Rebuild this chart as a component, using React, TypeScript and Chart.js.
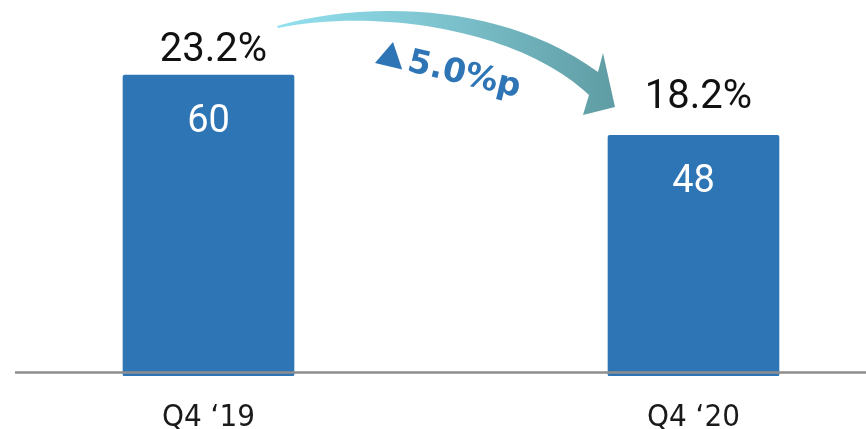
import React, { useEffect, useRef } from 'react';
import { Chart, registerables } from 'chart.js';

Chart.register(...registerables);

// ---- data ----
const categories = ['Q4 ‘19', 'Q4 ‘20'];
const barValues = [60, 48];
const shareLabels = ['23.2%', '18.2%'];
const changeLabel = '5.0%p';

// ---- layout / style ----
const BAR_COLOR = '#2E75B6';
const labelGap = [14, 27];

const overlay = {
  id: 'overlay',
  afterDatasetsDraw(chart: any) {
    const ctx: CanvasRenderingContext2D = chart.ctx;
    const meta = chart.getDatasetMeta(0);
    const area = chart.chartArea;
    ctx.save();

    // axis line (drawn over bars)
    const axisY = area.bottom - 3.5;
    ctx.strokeStyle = '#8e8e8e';
    ctx.lineWidth = 2.5;
    ctx.beginPath();
    ctx.moveTo(15, axisY);
    ctx.lineTo(chart.width, axisY);
    ctx.stroke();

    const pts = meta.data.map((b: any) => b.getProps(['x', 'y'], true));

    pts.forEach((p: any, i: number) => {
      ctx.fillStyle = '#ffffff';
      ctx.font = '38px Roboto';
      ctx.textAlign = 'center';
      ctx.textBaseline = 'middle';
      ctx.fillText(String(barValues[i]), p.x, p.y + 47);

      ctx.fillStyle = '#111111';
      ctx.font = '40px Roboto';
      ctx.textBaseline = 'alphabetic';
      ctx.fillText(shareLabels[i], p.x + 5, p.y - labelGap[i]);
    });

    // curved arrow between the two bars
    const mid = (pts[0].x + pts[1].x) / 2;
    const X = (dx: number) => mid + dx;
    const grad = ctx.createLinearGradient(X(-174), 0, X(164), 0);
    grad.addColorStop(0, '#92e0ef');
    grad.addColorStop(0.5, '#7cc2cd');
    grad.addColorStop(1, '#5f9ca3');
    ctx.fillStyle = grad;
    ctx.beginPath();
    ctx.moveTo(X(-174), 26);
    ctx.bezierCurveTo(X(-91), 2, X(49), 0, X(147), 72);
    ctx.lineTo(X(152), 53);
    ctx.lineTo(X(164), 107);
    ctx.lineTo(X(132), 115);
    ctx.lineTo(X(138), 95);
    ctx.bezierCurveTo(X(69), 30, X(-71), 8, X(-173), 28);
    ctx.closePath();
    ctx.fill();

    // ▲ 5.0%p rotated label
    ctx.save();
    ctx.translate(X(-76), 63);
    ctx.rotate((13.5 * Math.PI) / 180);
    ctx.fillStyle = BAR_COLOR;
    ctx.beginPath();
    ctx.moveTo(0, 0);
    ctx.lineTo(28, 0);
    ctx.lineTo(12.6, -24.6);
    ctx.closePath();
    ctx.fill();
    ctx.font = 'bold 33px "DejaVu Sans"';
    ctx.textAlign = 'left';
    ctx.textBaseline = 'alphabetic';
    ctx.fillText(changeLabel, 32, 0);
    ctx.restore();

    ctx.restore();
  },
};

export default function App() {
  const ref = useRef<HTMLCanvasElement | null>(null);

  useEffect(() => {
    if (!ref.current) return;
    const chart = new Chart(ref.current, {
      type: 'bar',
      data: {
        datasets: [
          {
            data: barValues.map((v, i) => ({ x: i, y: v })),
            backgroundColor: BAR_COLOR,
            borderRadius: 2,
            borderSkipped: false,
            barThickness: 171,
          },
        ],
      },
      options: {
        animation: false,
        responsive: true,
        maintainAspectRatio: false,
        layout: { padding: 0 },
        plugins: {
          legend: { display: false },
          tooltip: { enabled: false },
        },
        scales: {
          x: {
            type: 'linear',
            offset: false,
            min: -0.42989,
            max: 1.35567,
            grid: { display: false, offset: false },
            border: { display: false },
            afterBuildTicks: (scale: any) => {
              scale.ticks = categories.map((_, i) => ({ value: i }));
            },
            afterFit: (scale: any) => {
              scale.height = 53;
            },
            ticks: {
              padding: 15,
              autoSkip: false,
              maxRotation: 0,
              color: '#1a1a1a',
              font: { family: '"DejaVu Sans Condensed", "DejaVu Sans"', size: 31 },
              callback: (v: any) => categories[v as number] ?? '',
            },
          },
          y: {
            display: false,
            min: 0,
            max: 75,
          },
        },
      },
      plugins: [overlay],
    });
    return () => chart.destroy();
  }, []);

  return (
    <div style={{ position: 'absolute', left: 0, top: 0, width: 866, height: 429 }}>
      <canvas ref={ref} />
    </div>
  );
}
